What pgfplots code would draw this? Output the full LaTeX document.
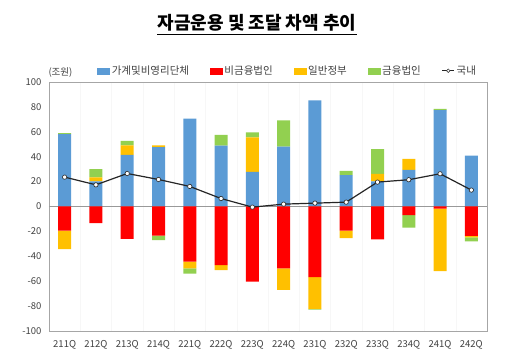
\documentclass[border=0pt]{standalone}
\usepackage{pgfplots}
\pgfplotsset{compat=1.18}
\usepackage{fontspec}
\setmainfont{Noto Sans CJK KR}
\definecolor{cblue}{HTML}{5B9BD5}
\definecolor{cred}{HTML}{FF0000}
\definecolor{cyellow}{HTML}{FFC000}
\definecolor{cgreen}{HTML}{92D050}
\definecolor{ctext}{HTML}{404040}
\pgfplotstableread{
x blue ypos gpos rneg yneg gneg total
0 58.2 0 0.8 -19.3 -15.0 0 23.6
1 20.1 3.2 6.7 -13.4 0 0 17.4
2 41.5 7.5 3.8 -26.0 0 0 26.5
3 47.7 1.3 0 -23.3 0 -3.7 21.7
4 70.5 0 0 -44.2 -5.6 -4.2 16.1
5 48.8 0 8.8 -47.1 -4.0 0 6.4
6 27.9 27.6 4.0 -60.3 0 0 -0.5
7 48.0 0 21.1 -49.8 -17.2 0 1.9
8 85.2 0 0 -56.8 -25.4 -0.6 2.7
9 25.2 0 3.5 -19.3 -6.1 0 3.5
10 20.1 6.2 19.8 -26.5 0 0 19.6
11 29.5 8.8 0 -6.9 0 -10.0 21.5
12 77.5 0 1.0 -1.8 -50.1 0 26.3
13 40.8 0 0 -23.5 -1.4 -3.2 13.2
}\datatable
\pgfplotsset{
  base/.style={
    scale only axis, width=438pt, height=249pt,
    at={(49pt,25pt)}, anchor=south west,
    xmin=-0.5, xmax=13.5, ymin=-100, ymax=100,
    axis line style={draw=gray!70},
    major tick length=0pt, minor tick length=0pt,
    ytick={-100,-80,...,100},
    xtick={0,...,13},
    xticklabels={211Q,212Q,213Q,214Q,221Q,222Q,223Q,224Q,231Q,232Q,233Q,234Q,241Q,242Q},
    tick label style={font=\fontsize{9.5}{10}\selectfont, text=ctext},
    /pgf/number format/assume math mode=true,
    yticklabel style={xshift=-4pt},
    xticklabel style={yshift=-6pt},
  },
  hidden/.style={axis line style={draw=none}, xticklabels={}, yticklabels={}},
}
\begin{document}
\begin{tikzpicture}
\useasboundingbox (0,0) rectangle (512pt,356pt);
\node[font=\fontsize{18}{20}\selectfont\bfseries, text=black, inner sep=0pt] (t) at (257pt,333pt) {자금운용 및 조달 차액 추이};
\draw[black, line width=1.1pt] ([yshift=-3pt]t.south west) -- ([yshift=-3pt]t.south east);
\node[font=\fontsize{9.5}{10}\selectfont, text=ctext, anchor=west] at (45pt,283pt) {(조원)};
\begin{axis}[base, ybar stacked, bar width=13pt,
  minor xtick={0.5,1.5,...,12.5}, xminorgrids, minor x grid style={gray!6},
  extra y ticks={0}, extra y tick labels={}, extra y tick style={grid=major, major grid style={gray!80, line width=0.6pt}}]
\addplot[ybar, draw=none, fill=cblue] table[x=x,y=blue]{\datatable};
\addplot[ybar, draw=none, fill=cyellow] table[x=x,y=ypos]{\datatable};
\addplot[ybar, draw=none, fill=cgreen] table[x=x,y=gpos]{\datatable};
\end{axis}
\begin{axis}[base, hidden, ybar stacked, bar width=13pt]
\addplot[ybar, draw=none, fill=cred] table[x=x,y=rneg]{\datatable};
\addplot[ybar, draw=none, fill=cyellow] table[x=x,y=yneg]{\datatable};
\addplot[ybar, draw=none, fill=cgreen] table[x=x,y=gneg]{\datatable};
\end{axis}
\begin{axis}[base, hidden,
  legend columns=5,
  legend style={draw=none, fill=none, at={(0.545,1.0)}, anchor=south, yshift=2pt,
    font=\fontsize{10.5}{11}\selectfont, text=ctext,
    /tikz/every even column/.append style={column sep=19pt}},
  legend cell align=left]
\addlegendimage{legend image code/.code={\fill[cblue] (0pt,-3pt) rectangle (12pt,3pt);}}
\addlegendentry{가계및비영리단체}
\addlegendimage{legend image code/.code={\fill[cred] (0pt,-3pt) rectangle (12pt,3pt);}}
\addlegendentry{비금융법인}
\addlegendimage{legend image code/.code={\fill[cyellow] (0pt,-3pt) rectangle (12pt,3pt);}}
\addlegendentry{일반정부}
\addlegendimage{legend image code/.code={\fill[cgreen] (0pt,-3pt) rectangle (12pt,3pt);}}
\addlegendentry{금융법인}
\addlegendimage{legend image code/.code={\draw[black!85, line width=0.8pt] (0pt,0pt) -- (12pt,0pt); \draw[black!85, fill=white, line width=0.5pt] (6pt,0pt) circle (1.8pt);}}
\addlegendentry{국내}
\addplot[sharp plot, black!85, line width=1.2pt, mark=*, mark size=2.2pt,
  mark options={fill=white, draw=black!85, line width=0.6pt}, forget plot]
  table[x=x,y=total]{\datatable};
\end{axis}
\end{tikzpicture}
\end{document}
